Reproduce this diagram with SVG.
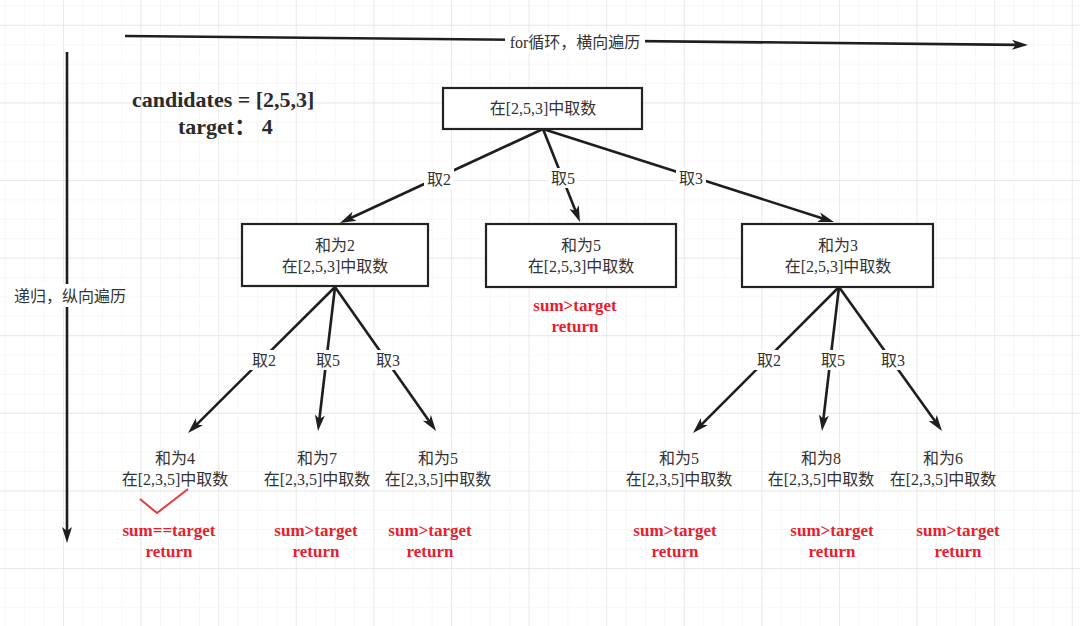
<svg xmlns="http://www.w3.org/2000/svg" width="1080" height="626" viewBox="0 0 1080 626">
  <style>
    .box { fill: #ffffff; stroke: #222222; stroke-width: 2.2; }
    .edge { fill: none; stroke: #1e1e1e; stroke-width: 2.6; }
    .txt { font-family: "Liberation Serif", "Noto Sans CJK SC", serif; font-size: 16px; fill: #333333; text-anchor: middle; dominant-baseline: central; }
    .lbl { font-family: "Liberation Serif", "Noto Sans CJK SC", serif; font-size: 16px; fill: #333333; text-anchor: middle; dominant-baseline: central; }
    .lblbg { fill: #ffffff; }
    .res { font-family: "Liberation Serif", serif; font-size: 17px; font-weight: bold; fill: #e8202e; text-anchor: middle; dominant-baseline: central; }
    .title { font-family: "Liberation Serif", "Noto Sans CJK SC", serif; font-size: 22px; font-weight: bold; fill: #2b2b2b; }
  </style>
  <defs>
    <pattern id="gridMinor" patternUnits="userSpaceOnUse" x="4.8" y="5.4" width="19.4" height="19.4">
      <path d="M0,0 H19.4 M0,0 V19.4" fill="none" stroke="#efefef" stroke-width="1"/>
    </pattern>
    <pattern id="gridMajor" patternUnits="userSpaceOnUse" x="63" y="24.8" width="77.6" height="77.6">
      <path d="M0,0 H77.6 M0,0 V77.6" fill="none" stroke="#e3e3e3" stroke-width="1.3"/>
    </pattern>
    <marker id="arrow" markerUnits="userSpaceOnUse" markerWidth="16" markerHeight="10" refX="10" refY="5" orient="auto" overflow="visible">
      <path d="M0,0 L16,5 L0,10 L4,5 z" fill="#1e1e1e"/>
    </marker>
  </defs>

  <!-- background grid -->
  <rect x="0" y="0" width="1080" height="626" fill="#ffffff"/>
  <rect x="0" y="0" width="1080" height="626" fill="url(#gridMinor)"/>
  <rect x="0" y="0" width="1080" height="626" fill="url(#gridMajor)"/>

  <!-- axes: horizontal loop direction, vertical recursion direction -->
  <g id="axes">
    <line class="edge" x1="125" y1="36" x2="1022" y2="44.9" marker-end="url(#arrow)"/>
    <rect class="lblbg" x="505" y="32" width="140" height="20"/>
    <text class="lbl" x="575" y="42">for循环，横向遍历</text>
    <line class="edge" x1="67" y1="52" x2="67" y2="537" marker-end="url(#arrow)"/>
    <rect class="lblbg" x="10" y="284" width="120" height="23"/>
    <text class="lbl" x="70" y="296">递归，纵向遍历</text>
  </g>

  <!-- problem statement -->
  <g id="problem">
    <text class="title" x="132" y="107">candidates = [2,5,3]</text>
    <text class="title" x="178" y="134">target：  4</text>
  </g>

  <!-- connectors -->
  <g id="connectors">
    <line class="edge" x1="543" y1="129" x2="345.4" y2="220.5" marker-end="url(#arrow)"/>
    <line class="edge" x1="543" y1="129" x2="577.8" y2="216.4" marker-end="url(#arrow)"/>
    <line class="edge" x1="543" y1="129" x2="828.3" y2="220.2" marker-end="url(#arrow)"/>

    <line class="edge" x1="335" y1="287" x2="192.3" y2="428.8" marker-end="url(#arrow)"/>
    <line class="edge" x1="335" y1="287" x2="318.7" y2="425" marker-end="url(#arrow)"/>
    <line class="edge" x1="335" y1="287" x2="432.6" y2="426.1" marker-end="url(#arrow)"/>

    <line class="edge" x1="839" y1="287" x2="697.2" y2="428.8" marker-end="url(#arrow)"/>
    <line class="edge" x1="839" y1="287" x2="822.7" y2="425" marker-end="url(#arrow)"/>
    <line class="edge" x1="839" y1="287" x2="938.5" y2="426.1" marker-end="url(#arrow)"/>

    <!-- edge labels -->
    <g id="edge-labels">
      <rect class="lblbg" x="424" y="169" width="30" height="20"/><text class="lbl" x="439" y="179">取2</text>
      <rect class="lblbg" x="548" y="168" width="30" height="20"/><text class="lbl" x="563" y="178">取5</text>
      <rect class="lblbg" x="676" y="168" width="30" height="20"/><text class="lbl" x="691" y="178">取3</text>

      <rect class="lblbg" x="249" y="350" width="30" height="20"/><text class="lbl" x="264" y="360">取2</text>
      <rect class="lblbg" x="313" y="350" width="30" height="20"/><text class="lbl" x="328" y="360">取5</text>
      <rect class="lblbg" x="373" y="350" width="30" height="20"/><text class="lbl" x="388" y="360">取3</text>

      <rect class="lblbg" x="754" y="350" width="30" height="20"/><text class="lbl" x="769" y="360">取2</text>
      <rect class="lblbg" x="818" y="350" width="30" height="20"/><text class="lbl" x="833" y="360">取5</text>
      <rect class="lblbg" x="878" y="350" width="30" height="20"/><text class="lbl" x="893" y="360">取3</text>
    </g>
  </g>

  <!-- level 0 -->
  <g id="root">
    <rect class="box" x="443" y="88" width="199" height="41"/>
    <text class="txt" x="543" y="108">在[2,5,3]中取数</text>
  </g>

  <!-- level 1 -->
  <g id="n-sum2">
    <rect class="box" x="242" y="224" width="186" height="62"/>
    <text class="txt" x="335" y="245">和为2</text>
    <text class="txt" x="335" y="266">在[2,5,3]中取数</text>
  </g>
  <g id="n-sum5">
    <rect class="box" x="486" y="224" width="190" height="63"/>
    <text class="txt" x="581" y="245">和为5</text>
    <text class="txt" x="581" y="266">在[2,5,3]中取数</text>
    <text class="res" x="575" y="305">sum&gt;target</text>
    <text class="res" x="575" y="326">return</text>
  </g>
  <g id="n-sum3">
    <rect class="box" x="742" y="224" width="191" height="63"/>
    <text class="txt" x="838" y="245">和为3</text>
    <text class="txt" x="838" y="266">在[2,5,3]中取数</text>
  </g>

  <!-- level 2 leaves -->
  <g id="n-sum4">
    <text class="txt" x="175" y="458">和为4</text>
    <text class="txt" x="175" y="479">在[2,3,5]中取数</text>
    <polyline points="140,499 157,513 188,489" fill="none" stroke="#e8383f" stroke-width="2"/>
    <text class="res" x="169" y="530">sum==target</text>
    <text class="res" x="169" y="551">return</text>
  </g>
  <g id="n-sum7">
    <text class="txt" x="317" y="458">和为7</text>
    <text class="txt" x="317" y="479">在[2,3,5]中取数</text>
    <text class="res" x="316" y="530">sum&gt;target</text>
    <text class="res" x="316" y="551">return</text>
  </g>
  <g id="n-sum5b">
    <text class="txt" x="438" y="458">和为5</text>
    <text class="txt" x="438" y="479">在[2,3,5]中取数</text>
    <text class="res" x="430" y="530">sum&gt;target</text>
    <text class="res" x="430" y="551">return</text>
  </g>
  <g id="n-sum5c">
    <text class="txt" x="679" y="458">和为5</text>
    <text class="txt" x="679" y="479">在[2,3,5]中取数</text>
    <text class="res" x="675" y="530">sum&gt;target</text>
    <text class="res" x="675" y="551">return</text>
  </g>
  <g id="n-sum8">
    <text class="txt" x="821" y="458">和为8</text>
    <text class="txt" x="821" y="479">在[2,3,5]中取数</text>
    <text class="res" x="832" y="530">sum&gt;target</text>
    <text class="res" x="832" y="551">return</text>
  </g>
  <g id="n-sum6">
    <text class="txt" x="943" y="458">和为6</text>
    <text class="txt" x="943" y="479">在[2,3,5]中取数</text>
    <text class="res" x="958" y="530">sum&gt;target</text>
    <text class="res" x="958" y="551">return</text>
  </g>
</svg>
